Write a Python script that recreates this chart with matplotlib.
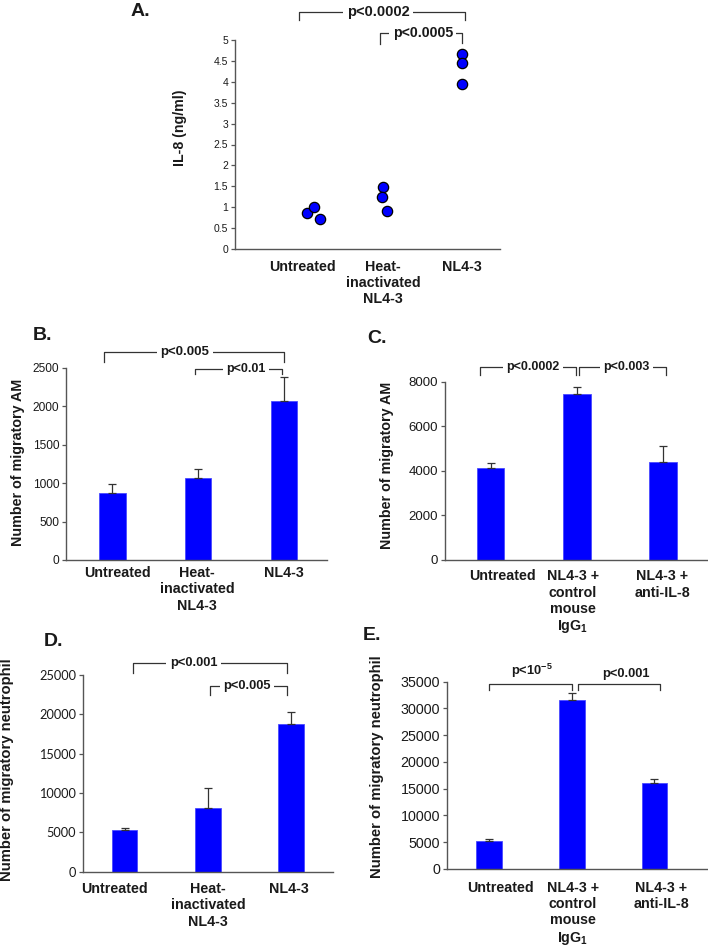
import matplotlib
matplotlib.use("Agg")
import matplotlib.pyplot as plt
import matplotlib.transforms as mtransforms

plt.rcParams["font.family"] = ["Liberation Sans", "DejaVu Sans"]
plt.rcParams["mathtext.fontset"] = "custom"
plt.rcParams["mathtext.rm"] = "Liberation Sans"
plt.rcParams["mathtext.bf"] = "Liberation Sans:bold"

# ── data ─────────────────────────────────────────────────────────────────────
GROUPS_HEAT = ["Untreated", "Heat-\ninactivated\nNL4-3", "NL4-3"]
GROUPS_AB = ["Untreated", "NL4-3 +\ncontrol\nmouse\nIgG$_{\\mathbf{1}}$", "NL4-3 +\nanti-IL-8"]

# A. IL-8 (ng/ml), three donors per group
il8_untreated = [0.85, 1.00, 0.72]
il8_heat = [1.49, 1.24, 0.92]
il8_nl43 = [4.66, 4.44, 3.95]

# B. migratory AM, heat-inactivated comparison
am_heat_mean = [870, 1065, 2070]
am_heat_err = [115, 120, 310]
# C. migratory AM, antibody blocking
am_ab_mean = [4120, 7460, 4400]
am_ab_err = [220, 310, 720]
# D. migratory neutrophil, heat-inactivated comparison
neu_heat_mean = [5250, 8050, 18750]
neu_heat_err = [280, 2600, 1500]
# E. migratory neutrophil, antibody blocking
neu_ab_mean = [5300, 31500, 16100]
neu_ab_err = [300, 1350, 700]

# ── style ────────────────────────────────────────────────────────────────────
W, H = 708, 952
BLUE = "#0000ff"
AXIS = "#555555"
INK = "#1a1a1a"
BRK = "#333333"
CAT_SIZE = 10.3

fig = plt.figure(figsize=(W / 100, H / 100), dpi=100)
fig.patch.set_facecolor("white")


def px_axes(left, right, bottom, top):
    # axes box given in pixel coords of the 708x952 canvas
    return fig.add_axes([left / W, 1 - bottom / H, (right - left) / W, (bottom - top) / H])


def style(ax, size, family=None):
    for s in ("top", "right"):
        ax.spines[s].set_visible(False)
    for s in ("left", "bottom"):
        ax.spines[s].set_color(AXIS)
        ax.spines[s].set_linewidth(1.0)
    ax.tick_params(axis="y", direction="out", length=3, width=0.9, color=AXIS,
                   labelsize=size, pad=2, labelcolor=INK)
    ax.tick_params(axis="x", length=0, labelbottom=False)
    if family:
        for lab in ax.get_yticklabels():
            lab.set_family(family)


def cat_labels(ax, labels, shifts_px, drop_pt):
    tr = mtransforms.blended_transform_factory(ax.transData, ax.transAxes)
    for i, (lab, dx) in enumerate(zip(labels, shifts_px)):
        ax.annotate(lab, xy=(i, 0), xycoords=tr, xytext=(dx * 0.72, -drop_pt),
                    textcoords="offset points", ha="center", va="top",
                    fontsize=CAT_SIZE, fontweight="bold", color=INK,
                    multialignment="center", annotation_clip=False)


def ylabel(ax, text, x, y, size=10.3):
    ax.text(x, y, text, transform=ax.transAxes, rotation=90, ha="center",
            va="center", fontsize=size, fontweight="bold", color=INK)


def bracket(ax, x0, x1, top, leg0, leg1, text, tx, size, above=False):
    tr = mtransforms.blended_transform_factory(ax.transData, ax.transAxes)
    ax.plot([x0, x0, x1, x1], [leg0, top, top, leg1], transform=tr,
            color=BRK, lw=0.9, clip_on=False, zorder=5)
    if above:
        ax.text(tx, top + 0.025, text, transform=tr, ha="center", va="bottom",
                fontsize=size, fontweight="bold", color=INK, zorder=6)
    else:
        ax.text(tx, top, text, transform=tr, ha="center", va="center",
                fontsize=size, fontweight="bold", color=INK, zorder=6,
                bbox=dict(fc="white", ec="none", pad=2.5))


def bars(ax, means, errs, width=0.31):
    x = list(range(len(means)))
    ax.bar(x, means, width=width, color=BLUE, edgecolor="#4a4aff", linewidth=0.6, zorder=2)
    ax.errorbar(x, means, yerr=[[0] * len(errs), errs], fmt="none",
                ecolor=BRK, elinewidth=0.9, capsize=3, capthick=0.9, zorder=3)


def letter(text, x, y):
    fig.text(x / W, 1 - y / H, text, ha="center", va="center",
             fontsize=14, fontweight="bold", color=INK)


# ── A. IL-8 scatter ──────────────────────────────────────────────────────────
axA = px_axes(235, 500, 249, 40)
A_JITTER = [[0.06, 0.155, 0.22], [0.01, 0.0, 0.06], [0.0, 0.0, 0.0]]
for i, vals in enumerate([il8_untreated, il8_heat, il8_nl43]):
    axA.scatter([i + j for j in A_JITTER[i]], vals, s=55, color=BLUE,
                edgecolors="black", linewidths=0.9, zorder=4, clip_on=False)
axA.set_xlim(-0.8375, 2.475)
axA.set_ylim(0, 5)
axA.set_yticks([0, 0.5, 1, 1.5, 2, 2.5, 3, 3.5, 4, 4.5, 5])
axA.set_yticklabels(["0", "0.5", "1", "1.5", "2", "2.5", "3", "3.5", "4", "4.5", "5"])
style(axA, 7.5)
cat_labels(axA, GROUPS_HEAT, [0, 1, 0], 7.7)
ylabel(axA, "IL-8 (ng/ml)", -0.2075, 0.581, 10.2)
bracket(axA, -0.04, 2.04, 1.135, 1.096, 1.096, "p<0.0002", 0.95, 10.5)
bracket(axA, 0.975, 2.0, 1.033, 0.981, 0.985, "p<0.0005", 1.51, 10.2)
letter("A.", 140.7, 11.7)

# ── B. AM, heat-inactivated ─────────────────────────────────────────────────
axB = px_axes(66, 327, 560, 368)
bars(axB, am_heat_mean, am_heat_err)
axB.set_xlim(-0.538, 2.5)
axB.set_ylim(0, 2500)
axB.set_yticks(range(0, 2501, 500))
style(axB, 8.6)
cat_labels(axB, GROUPS_HEAT[:2] + ["NL4-3"], [5, -1, 0], 4.5)
ylabel(axB, "Number of migratory AM", -0.183, 0.508)
bracket(axB, -0.1, 2.0, 1.085, 1.033, 1.033, "p<0.005", 0.845, 9.5)
bracket(axB, 0.96, 1.98, 0.993, 0.969, 0.969, "p<0.01", 1.56, 9.0)
letter("B.", 42.3, 335)

# ── C. AM, antibody blocking ────────────────────────────────────────────────
axC = px_axes(445, 707, 559.5, 382)
bars(axC, am_ab_mean, am_ab_err, width=0.32)
axC.set_xlim(-0.528, 2.51)
axC.set_ylim(0, 8000)
axC.set_yticks(range(0, 8001, 2000))
style(axC, 9.5)
cat_labels(axC, GROUPS_AB, [12, -4, -1], 7.2)
ylabel(axC, "Number of migratory AM", -0.2225, 0.532)
bracket(axC, -0.12, 0.99, 1.086, 1.039, 1.039, "p<0.0002", 0.495, 9.0)
bracket(axC, 1.03, 2.04, 1.086, 1.039, 1.039, "p<0.003", 1.58, 9.0)
letter("C.", 376.7, 338.3)

# ── D. neutrophil, heat-inactivated ─────────────────────────────────────────
axD = px_axes(83, 333.3, 871.7, 675)
bars(axD, neu_heat_mean, neu_heat_err)
axD.set_xlim(-0.498, 2.505)
axD.set_ylim(0, 25000)
axD.set_yticks(range(0, 25001, 5000))
style(axD, 9.2, family="Lato")
cat_labels(axD, GROUPS_HEAT, [-10, 0, -2], 7.6)
ylabel(axD, "Number of migratory neutrophil", -0.302, 0.517, 10.7)
bracket(axD, 0.1, 1.955, 1.059, 1.009, 1.009, "p<0.001", 0.83, 9.3)
bracket(axD, 1.02, 1.955, 0.944, 0.898, 0.898, "p<0.005", 1.47, 9.3)
letter("D.", 53.3, 641.7)

# ── E. neutrophil, antibody blocking ────────────────────────────────────────
axE = px_axes(447, 707, 869, 681.7)
bars(axE, neu_ab_mean, neu_ab_err)
axE.set_xlim(-0.508, 2.635)
axE.set_ylim(0, 35000)
axE.set_yticks(range(0, 35001, 5000))
style(axE, 10.3)
cat_labels(axE, GROUPS_AB, [11, 1, 7], 8.6)
ylabel(axE, "Number of migratory neutrophil", -0.27, 0.546, 10.7)
bracket(axE, 0.0, 1.0, 0.986, 0.956, 0.956, "p<10$^{\\mathbf{-5}}$", 0.516, 9.3, above=True)
bracket(axE, 1.08, 2.07, 0.986, 0.956, 0.956, "p<0.001", 1.66, 9.3, above=True)
letter("E.", 371.7, 635)

fig.savefig("out.png", dpi=100, facecolor="white")
